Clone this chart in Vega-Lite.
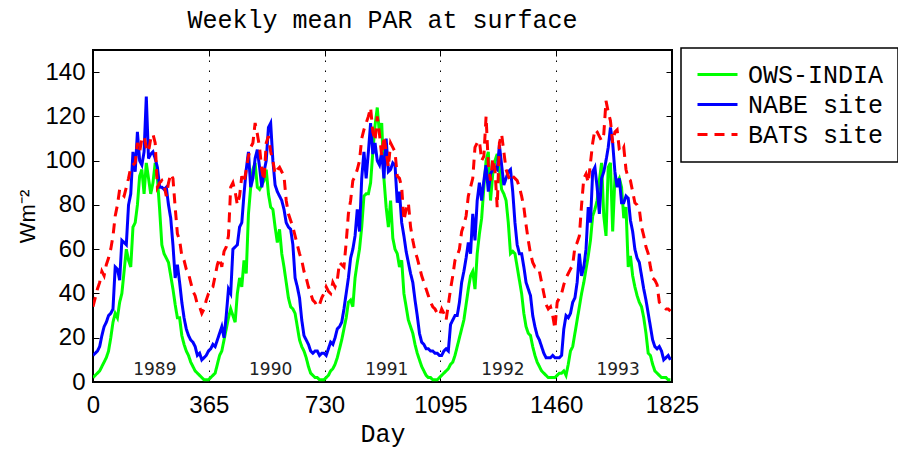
{
"$schema":"https://vega.github.io/schema/vega-lite/v6.json",
"width":579,"height":332,
"autosize":{"type":"none"},
"padding":{"left":93,"top":50,"right":226,"bottom":69},
"background":"white",
"title":{"text":"Weekly mean PAR at surface","font":"Liberation Mono","fontSize":25,"fontWeight":"normal","color":"black","offset":14,"anchor":"middle"},
"config":{
"view":{"stroke":"black","strokeWidth":2},
"axis":{"domain":false,"labelFont":"Liberation Sans","labelFontSize":24,"labelColor":"black","tickColor":"black","tickSize":-6,"tickWidth":1,"titleFont":"Liberation Mono","titleFontSize":25,"titleFontWeight":"normal","titleColor":"black","labelFlush":false,"labelOverlap":false},
"legend":{"strokeColor":"black","strokeWidth":1.5,"fillColor":"white","padding":14,"symbolType":"M-2,0H2","symbolSize":400,"symbolStrokeWidth":3,"labelFont":"Liberation Mono","labelFontSize":25,"labelColor":"black","labelOffset":18,"rowPadding":4,"symbolOffset":10,"labelLimit":400}
},
"resolve":{"axis":{"x":"independent","y":"independent"}},
"datasets":{
"g":[{"d":0,"v":2},{"d":7,"v":3},{"d":14,"v":4},{"d":21,"v":5},{"d":28,"v":7},{"d":35,"v":9},{"d":42,"v":11},{"d":49,"v":14},{"d":56,"v":20},{"d":63,"v":27},{"d":70,"v":31},{"d":77,"v":29},{"d":84,"v":36},{"d":91,"v":40},{"d":98,"v":50},{"d":105,"v":60},{"d":112,"v":55},{"d":119,"v":52},{"d":126,"v":70},{"d":133,"v":72},{"d":140,"v":80},{"d":147,"v":93},{"d":154,"v":96},{"d":161,"v":85},{"d":168,"v":99},{"d":175,"v":92},{"d":182,"v":85},{"d":189,"v":90},{"d":196,"v":99},{"d":203,"v":92},{"d":210,"v":78},{"d":217,"v":62},{"d":224,"v":58},{"d":231,"v":56},{"d":238,"v":54},{"d":245,"v":48},{"d":252,"v":42},{"d":259,"v":35},{"d":266,"v":29},{"d":273,"v":29},{"d":280,"v":21},{"d":287,"v":17},{"d":294,"v":14},{"d":301,"v":12},{"d":308,"v":9},{"d":315,"v":7},{"d":322,"v":5},{"d":329,"v":4},{"d":336,"v":3},{"d":343,"v":2},{"d":350,"v":1},{"d":357,"v":1},{"d":364,"v":1},
{"d":371,"v":2},{"d":378,"v":3},{"d":385,"v":4},{"d":392,"v":8},{"d":399,"v":12},{"d":406,"v":14},{"d":413,"v":19},{"d":420,"v":24},{"d":427,"v":29},{"d":434,"v":33},{"d":441,"v":30},{"d":448,"v":27},{"d":455,"v":40},{"d":462,"v":47},{"d":469,"v":43},{"d":476,"v":55},{"d":483,"v":49},{"d":490,"v":76},{"d":497,"v":88},{"d":504,"v":96},{"d":511,"v":99},{"d":518,"v":88},{"d":525,"v":87},{"d":532,"v":89},{"d":539,"v":91},{"d":546,"v":96},{"d":553,"v":85},{"d":560,"v":79},{"d":567,"v":78},{"d":574,"v":70},{"d":581,"v":63},{"d":588,"v":69},{"d":595,"v":58},{"d":602,"v":52},{"d":609,"v":45},{"d":616,"v":38},{"d":623,"v":34},{"d":630,"v":33},{"d":637,"v":31},{"d":644,"v":25},{"d":651,"v":19},{"d":658,"v":16},{"d":665,"v":14},{"d":672,"v":11},{"d":679,"v":7},{"d":686,"v":4},{"d":693,"v":3},{"d":700,"v":2},{"d":707,"v":2},{"d":714,"v":1},{"d":721,"v":1},{"d":728,"v":1},
{"d":735,"v":2},{"d":742,"v":3},{"d":749,"v":5},{"d":756,"v":6},{"d":763,"v":8},{"d":770,"v":11},{"d":777,"v":15},{"d":784,"v":19},{"d":791,"v":24},{"d":798,"v":29},{"d":805,"v":36},{"d":812,"v":37},{"d":819,"v":34},{"d":826,"v":47},{"d":833,"v":54},{"d":840,"v":60},{"d":847,"v":70},{"d":854,"v":84},{"d":861,"v":85},{"d":868,"v":85},{"d":875,"v":90},{"d":882,"v":104},{"d":889,"v":116},{"d":896,"v":124},{"d":903,"v":112},{"d":910,"v":117},{"d":917,"v":92},{"d":924,"v":79},{"d":931,"v":70},{"d":938,"v":82},{"d":945,"v":65},{"d":952,"v":60},{"d":959,"v":58},{"d":966,"v":52},{"d":973,"v":55},{"d":980,"v":40},{"d":987,"v":34},{"d":994,"v":28},{"d":1001,"v":25},{"d":1008,"v":22},{"d":1015,"v":17},{"d":1022,"v":13},{"d":1029,"v":10},{"d":1036,"v":7},{"d":1043,"v":5},{"d":1050,"v":3},{"d":1057,"v":2},{"d":1064,"v":2},{"d":1071,"v":1},{"d":1078,"v":1},{"d":1085,"v":1},{"d":1092,"v":2},
{"d":1099,"v":3},{"d":1106,"v":4},{"d":1113,"v":5},{"d":1120,"v":6},{"d":1127,"v":8},{"d":1134,"v":9},{"d":1141,"v":12},{"d":1148,"v":16},{"d":1155,"v":20},{"d":1162,"v":24},{"d":1169,"v":28},{"d":1176,"v":35},{"d":1183,"v":42},{"d":1190,"v":48},{"d":1197,"v":50},{"d":1204,"v":42},{"d":1211,"v":58},{"d":1218,"v":67},{"d":1225,"v":74},{"d":1232,"v":88},{"d":1239,"v":100},{"d":1246,"v":104},{"d":1253,"v":82},{"d":1260,"v":94},{"d":1267,"v":100},{"d":1274,"v":103},{"d":1281,"v":96},{"d":1288,"v":87},{"d":1295,"v":85},{"d":1302,"v":82},{"d":1309,"v":72},{"d":1316,"v":58},{"d":1323,"v":59},{"d":1330,"v":58},{"d":1337,"v":52},{"d":1344,"v":46},{"d":1351,"v":40},{"d":1358,"v":31},{"d":1365,"v":25},{"d":1372,"v":22},{"d":1379,"v":21},{"d":1386,"v":16},{"d":1393,"v":12},{"d":1400,"v":9},{"d":1407,"v":7},{"d":1414,"v":5},{"d":1421,"v":4},{"d":1428,"v":3},{"d":1435,"v":2},{"d":1442,"v":2},{"d":1449,"v":2},{"d":1456,"v":2},
{"d":1463,"v":3},{"d":1470,"v":4},{"d":1477,"v":4},{"d":1484,"v":5},{"d":1491,"v":3},{"d":1498,"v":8},{"d":1505,"v":14},{"d":1512,"v":16},{"d":1519,"v":22},{"d":1526,"v":28},{"d":1533,"v":34},{"d":1540,"v":40},{"d":1547,"v":45},{"d":1554,"v":51},{"d":1561,"v":57},{"d":1568,"v":64},{"d":1575,"v":75},{"d":1582,"v":78},{"d":1589,"v":82},{"d":1596,"v":91},{"d":1603,"v":99},{"d":1610,"v":75},{"d":1617,"v":66},{"d":1624,"v":97},{"d":1631,"v":99},{"d":1638,"v":68},{"d":1645,"v":92},{"d":1652,"v":90},{"d":1659,"v":92},{"d":1666,"v":88},{"d":1673,"v":74},{"d":1680,"v":79},{"d":1687,"v":52},{"d":1694,"v":57},{"d":1701,"v":48},{"d":1708,"v":43},{"d":1715,"v":39},{"d":1722,"v":36},{"d":1729,"v":34},{"d":1736,"v":29},{"d":1743,"v":22},{"d":1750,"v":13},{"d":1757,"v":12},{"d":1764,"v":8},{"d":1771,"v":5},{"d":1778,"v":4},{"d":1785,"v":3},{"d":1792,"v":2},{"d":1799,"v":2},{"d":1806,"v":2},{"d":1813,"v":1},{"d":1820,"v":1}],
"b":[{"d":0,"v":12},{"d":7,"v":13},{"d":14,"v":14},{"d":21,"v":16},{"d":28,"v":21},{"d":35,"v":25},{"d":42,"v":27},{"d":49,"v":30},{"d":56,"v":31},{"d":63,"v":33},{"d":70,"v":52},{"d":77,"v":51},{"d":84,"v":46},{"d":91,"v":64},{"d":98,"v":63},{"d":105,"v":62},{"d":112,"v":80},{"d":119,"v":85},{"d":126,"v":104},{"d":133,"v":95},{"d":140,"v":113},{"d":147,"v":100},{"d":154,"v":98},{"d":161,"v":104},{"d":168,"v":129},{"d":175,"v":101},{"d":182,"v":103},{"d":189,"v":104},{"d":196,"v":101},{"d":203,"v":97},{"d":210,"v":88},{"d":217,"v":88},{"d":224,"v":87},{"d":231,"v":88},{"d":238,"v":80},{"d":245,"v":74},{"d":252,"v":62},{"d":259,"v":47},{"d":266,"v":53},{"d":273,"v":45},{"d":280,"v":36},{"d":287,"v":29},{"d":294,"v":24},{"d":301,"v":21},{"d":308,"v":19},{"d":315,"v":18},{"d":322,"v":16},{"d":329,"v":12},{"d":336,"v":13},{"d":343,"v":10},{"d":350,"v":11},{"d":357,"v":12},{"d":364,"v":14},
{"d":371,"v":15},{"d":378,"v":17},{"d":385,"v":16},{"d":392,"v":19},{"d":399,"v":22},{"d":406,"v":25},{"d":413,"v":20},{"d":420,"v":30},{"d":427,"v":42},{"d":434,"v":40},{"d":441,"v":60},{"d":448,"v":61},{"d":455,"v":62},{"d":462,"v":70},{"d":469,"v":72},{"d":476,"v":85},{"d":483,"v":96},{"d":490,"v":104},{"d":497,"v":88},{"d":504,"v":92},{"d":511,"v":101},{"d":518,"v":105},{"d":525,"v":97},{"d":532,"v":88},{"d":539,"v":95},{"d":546,"v":100},{"d":553,"v":115},{"d":560,"v":117},{"d":567,"v":100},{"d":574,"v":89},{"d":581,"v":86},{"d":588,"v":84},{"d":595,"v":82},{"d":602,"v":78},{"d":609,"v":72},{"d":616,"v":70},{"d":623,"v":69},{"d":630,"v":62},{"d":637,"v":47},{"d":644,"v":43},{"d":651,"v":38},{"d":658,"v":28},{"d":665,"v":21},{"d":672,"v":19},{"d":679,"v":17},{"d":686,"v":14},{"d":693,"v":13},{"d":700,"v":14},{"d":707,"v":14},{"d":714,"v":12},{"d":721,"v":13},{"d":728,"v":13},
{"d":735,"v":12},{"d":742,"v":15},{"d":749,"v":18},{"d":756,"v":17},{"d":763,"v":20},{"d":770,"v":24},{"d":777,"v":25},{"d":784,"v":27},{"d":791,"v":33},{"d":798,"v":40},{"d":805,"v":47},{"d":812,"v":56},{"d":819,"v":60},{"d":826,"v":66},{"d":833,"v":78},{"d":840,"v":68},{"d":847,"v":92},{"d":854,"v":104},{"d":861,"v":92},{"d":868,"v":104},{"d":875,"v":117},{"d":882,"v":103},{"d":889,"v":108},{"d":896,"v":100},{"d":903,"v":98},{"d":910,"v":104},{"d":917,"v":92},{"d":924,"v":110},{"d":931,"v":95},{"d":938,"v":96},{"d":945,"v":99},{"d":952,"v":98},{"d":959,"v":81},{"d":966,"v":86},{"d":973,"v":72},{"d":980,"v":66},{"d":987,"v":59},{"d":994,"v":54},{"d":1001,"v":49},{"d":1008,"v":45},{"d":1015,"v":37},{"d":1022,"v":30},{"d":1029,"v":22},{"d":1036,"v":18},{"d":1043,"v":17},{"d":1050,"v":15},{"d":1057,"v":15},{"d":1064,"v":14},{"d":1071,"v":14},{"d":1078,"v":13},{"d":1085,"v":13},{"d":1092,"v":12},
{"d":1099,"v":12},{"d":1106,"v":14},{"d":1113,"v":15},{"d":1120,"v":14},{"d":1127,"v":26},{"d":1134,"v":28},{"d":1141,"v":30},{"d":1148,"v":30},{"d":1155,"v":36},{"d":1162,"v":45},{"d":1169,"v":50},{"d":1176,"v":56},{"d":1183,"v":63},{"d":1190,"v":58},{"d":1197,"v":76},{"d":1204,"v":64},{"d":1211,"v":82},{"d":1218,"v":90},{"d":1225,"v":82},{"d":1232,"v":91},{"d":1239,"v":98},{"d":1246,"v":86},{"d":1253,"v":94},{"d":1260,"v":96},{"d":1267,"v":97},{"d":1274,"v":96},{"d":1281,"v":107},{"d":1288,"v":98},{"d":1295,"v":89},{"d":1302,"v":92},{"d":1309,"v":95},{"d":1316,"v":96},{"d":1323,"v":86},{"d":1330,"v":72},{"d":1337,"v":62},{"d":1344,"v":58},{"d":1351,"v":58},{"d":1358,"v":52},{"d":1365,"v":45},{"d":1372,"v":42},{"d":1379,"v":39},{"d":1386,"v":30},{"d":1393,"v":25},{"d":1400,"v":21},{"d":1407,"v":19},{"d":1414,"v":16},{"d":1421,"v":13},{"d":1428,"v":11},{"d":1435,"v":11},{"d":1442,"v":11},{"d":1449,"v":12},{"d":1456,"v":11},
{"d":1463,"v":11},{"d":1470,"v":11},{"d":1477,"v":12},{"d":1484,"v":24},{"d":1491,"v":30},{"d":1498,"v":29},{"d":1505,"v":31},{"d":1512,"v":36},{"d":1519,"v":38},{"d":1526,"v":45},{"d":1533,"v":58},{"d":1540,"v":48},{"d":1547,"v":52},{"d":1554,"v":60},{"d":1561,"v":79},{"d":1568,"v":72},{"d":1575,"v":95},{"d":1582,"v":97},{"d":1589,"v":88},{"d":1596,"v":76},{"d":1603,"v":92},{"d":1610,"v":95},{"d":1617,"v":100},{"d":1624,"v":106},{"d":1631,"v":115},{"d":1638,"v":108},{"d":1645,"v":95},{"d":1652,"v":88},{"d":1659,"v":92},{"d":1666,"v":81},{"d":1673,"v":81},{"d":1680,"v":84},{"d":1687,"v":83},{"d":1694,"v":73},{"d":1701,"v":68},{"d":1708,"v":60},{"d":1715,"v":56},{"d":1722,"v":54},{"d":1729,"v":48},{"d":1736,"v":42},{"d":1743,"v":37},{"d":1750,"v":31},{"d":1757,"v":25},{"d":1764,"v":19},{"d":1771,"v":16},{"d":1778,"v":15},{"d":1785,"v":16},{"d":1792,"v":14},{"d":1799,"v":10},{"d":1806,"v":11},{"d":1813,"v":12},{"d":1820,"v":10}],
"r":[{"d":0,"v":34},{"d":7,"v":38},{"d":14,"v":42},{"d":21,"v":45},{"d":28,"v":50},{"d":35,"v":48},{"d":42,"v":53},{"d":49,"v":56},{"d":56,"v":60},{"d":63,"v":66},{"d":70,"v":75},{"d":77,"v":80},{"d":84,"v":87},{"d":91,"v":85},{"d":98,"v":84},{"d":105,"v":88},{"d":112,"v":92},{"d":119,"v":97},{"d":126,"v":98},{"d":133,"v":99},{"d":140,"v":108},{"d":147,"v":104},{"d":154,"v":110},{"d":161,"v":111},{"d":168,"v":106},{"d":175,"v":104},{"d":182,"v":110},{"d":189,"v":112},{"d":196,"v":108},{"d":203,"v":88},{"d":210,"v":90},{"d":217,"v":91},{"d":224,"v":89},{"d":231,"v":84},{"d":238,"v":90},{"d":245,"v":94},{"d":252,"v":92},{"d":259,"v":79},{"d":266,"v":67},{"d":273,"v":64},{"d":280,"v":57},{"d":287,"v":55},{"d":294,"v":51},{"d":301,"v":49},{"d":308,"v":45},{"d":315,"v":41},{"d":322,"v":39},{"d":329,"v":35},{"d":336,"v":34},{"d":343,"v":31},{"d":350,"v":33},{"d":357,"v":37},{"d":364,"v":40},
{"d":371,"v":42},{"d":378,"v":43},{"d":385,"v":48},{"d":392,"v":53},{"d":399,"v":56},{"d":406,"v":52},{"d":413,"v":59},{"d":420,"v":61},{"d":427,"v":66},{"d":434,"v":88},{"d":441,"v":90},{"d":448,"v":86},{"d":455,"v":80},{"d":462,"v":84},{"d":469,"v":93},{"d":476,"v":90},{"d":483,"v":96},{"d":490,"v":102},{"d":497,"v":106},{"d":504,"v":108},{"d":511,"v":117},{"d":518,"v":112},{"d":525,"v":106},{"d":532,"v":96},{"d":539,"v":91},{"d":546,"v":108},{"d":553,"v":111},{"d":560,"v":104},{"d":567,"v":100},{"d":574,"v":94},{"d":581,"v":96},{"d":588,"v":97},{"d":595,"v":95},{"d":602,"v":93},{"d":609,"v":82},{"d":616,"v":76},{"d":623,"v":73},{"d":630,"v":70},{"d":637,"v":66},{"d":644,"v":62},{"d":651,"v":58},{"d":658,"v":55},{"d":665,"v":50},{"d":672,"v":47},{"d":679,"v":43},{"d":686,"v":40},{"d":693,"v":37},{"d":700,"v":36},{"d":707,"v":34},{"d":714,"v":35},{"d":721,"v":38},{"d":728,"v":40},
{"d":735,"v":43},{"d":742,"v":41},{"d":749,"v":40},{"d":756,"v":45},{"d":763,"v":43},{"d":770,"v":46},{"d":777,"v":54},{"d":784,"v":53},{"d":791,"v":52},{"d":798,"v":63},{"d":805,"v":76},{"d":812,"v":82},{"d":819,"v":91},{"d":826,"v":93},{"d":833,"v":96},{"d":840,"v":100},{"d":847,"v":110},{"d":854,"v":114},{"d":861,"v":117},{"d":868,"v":120},{"d":875,"v":124},{"d":882,"v":113},{"d":889,"v":109},{"d":896,"v":120},{"d":903,"v":112},{"d":910,"v":102},{"d":917,"v":111},{"d":924,"v":104},{"d":931,"v":97},{"d":938,"v":108},{"d":945,"v":106},{"d":952,"v":104},{"d":959,"v":93},{"d":966,"v":92},{"d":973,"v":88},{"d":980,"v":73},{"d":987,"v":78},{"d":994,"v":81},{"d":1001,"v":70},{"d":1008,"v":64},{"d":1015,"v":59},{"d":1022,"v":56},{"d":1029,"v":52},{"d":1036,"v":48},{"d":1043,"v":45},{"d":1050,"v":42},{"d":1057,"v":39},{"d":1064,"v":36},{"d":1071,"v":34},{"d":1078,"v":33},{"d":1085,"v":31},{"d":1092,"v":30},
{"d":1099,"v":33},{"d":1106,"v":31},{"d":1113,"v":28},{"d":1120,"v":35},{"d":1127,"v":42},{"d":1134,"v":48},{"d":1141,"v":55},{"d":1148,"v":57},{"d":1155,"v":60},{"d":1162,"v":68},{"d":1169,"v":71},{"d":1176,"v":75},{"d":1183,"v":84},{"d":1190,"v":88},{"d":1197,"v":92},{"d":1204,"v":106},{"d":1211,"v":108},{"d":1218,"v":109},{"d":1225,"v":100},{"d":1232,"v":102},{"d":1239,"v":120},{"d":1246,"v":98},{"d":1253,"v":91},{"d":1260,"v":101},{"d":1267,"v":96},{"d":1274,"v":79},{"d":1281,"v":108},{"d":1288,"v":112},{"d":1295,"v":104},{"d":1302,"v":96},{"d":1309,"v":93},{"d":1316,"v":91},{"d":1323,"v":93},{"d":1330,"v":92},{"d":1337,"v":91},{"d":1344,"v":88},{"d":1351,"v":84},{"d":1358,"v":79},{"d":1365,"v":71},{"d":1372,"v":64},{"d":1379,"v":58},{"d":1386,"v":54},{"d":1393,"v":52},{"d":1400,"v":52},{"d":1407,"v":50},{"d":1414,"v":45},{"d":1421,"v":40},{"d":1428,"v":35},{"d":1435,"v":33},{"d":1442,"v":34},{"d":1449,"v":30},{"d":1456,"v":24},
{"d":1463,"v":36},{"d":1470,"v":38},{"d":1477,"v":40},{"d":1484,"v":44},{"d":1491,"v":47},{"d":1498,"v":49},{"d":1505,"v":51},{"d":1512,"v":53},{"d":1519,"v":61},{"d":1526,"v":63},{"d":1533,"v":66},{"d":1540,"v":80},{"d":1547,"v":92},{"d":1554,"v":94},{"d":1561,"v":90},{"d":1568,"v":99},{"d":1575,"v":108},{"d":1582,"v":114},{"d":1589,"v":113},{"d":1596,"v":111},{"d":1603,"v":109},{"d":1610,"v":112},{"d":1617,"v":127},{"d":1624,"v":122},{"d":1631,"v":118},{"d":1638,"v":108},{"d":1645,"v":113},{"d":1652,"v":114},{"d":1659,"v":105},{"d":1666,"v":104},{"d":1673,"v":106},{"d":1680,"v":96},{"d":1687,"v":92},{"d":1694,"v":91},{"d":1701,"v":86},{"d":1708,"v":81},{"d":1715,"v":80},{"d":1722,"v":78},{"d":1729,"v":70},{"d":1736,"v":66},{"d":1743,"v":61},{"d":1750,"v":58},{"d":1757,"v":52},{"d":1764,"v":47},{"d":1771,"v":46},{"d":1778,"v":44},{"d":1785,"v":36},{"d":1792,"v":35},{"d":1799,"v":34},{"d":1806,"v":33},{"d":1813,"v":33},{"d":1820,"v":32}],
"yr":[{"d":195,"v":3.2,"t":"1989"},{"d":560,"v":3.2,"t":"1990"},{"d":926,"v":3.2,"t":"1991"},{"d":1292,"v":3.2,"t":"1992"},{"d":1655,"v":3.2,"t":"1993"}]
},
"layer":[
{"data":{"name":"g"},"mark":{"type":"line","strokeWidth":3,"clip":true},
"encoding":{
"x":{"field":"d","type":"quantitative","scale":{"domain":[0,1825],"nice":false,"zero":false},"axis":{"values":[0,365,730,1095,1460,1825],"format":"d","title":"Day","grid":true,"gridDash":[1.5,8.5],"gridColor":"black","gridWidth":1,"labelPadding":17,"titlePadding":4}},
"y":{"field":"v","type":"quantitative","scale":{"domain":[0,150],"nice":false},"axis":{"values":[0,20,40,60,80,100,120,140],"format":"d","title":"Wm⁻²","titleFont":"Liberation Sans","titleFontSize":22,"labelPadding":14,"titlePadding":5,"grid":false}},
"color":{"datum":"OWS-INDIA","type":"nominal","scale":{"domain":["OWS-INDIA","NABE site","BATS site"],"range":["#00ff00","#0000ff","#ff0000"]},"legend":{"orient":"none","legendX":588,"legendY":-2,"title":null}},
"strokeDash":{"datum":"OWS-INDIA","type":"nominal","scale":{"domain":["OWS-INDIA","NABE site","BATS site"],"range":[[1,0],[1,0],[10,7]]},"legend":{"orient":"none","legendX":588,"legendY":-2,"title":null}}
}},
{"data":{"name":"b"},"mark":{"type":"line","strokeWidth":3,"clip":true},
"encoding":{
"x":{"field":"d","type":"quantitative","axis":null},
"y":{"field":"v","type":"quantitative","axis":null},
"color":{"datum":"NABE site","type":"nominal"},
"strokeDash":{"datum":"NABE site","type":"nominal"}
}},
{"data":{"name":"r"},"mark":{"type":"line","strokeWidth":3,"clip":true},
"encoding":{
"x":{"field":"d","type":"quantitative","axis":null},
"y":{"field":"v","type":"quantitative","axis":null},
"color":{"datum":"BATS site","type":"nominal"},
"strokeDash":{"datum":"BATS site","type":"nominal"}
}},
{"data":{"name":"yr"},"mark":{"type":"text","font":"DejaVu Sans","fontSize":17,"baseline":"alphabetic","align":"center","color":"#222222"},
"encoding":{
"x":{"field":"d","type":"quantitative","axis":{"orient":"top","labels":false,"title":null,"values":[0,365,730,1095,1460,1825],"grid":false}},
"y":{"field":"v","type":"quantitative","axis":{"orient":"right","labels":false,"title":null,"values":[0,20,40,60,80,100,120,140],"grid":false}},
"text":{"field":"t"}
}}
]
}
